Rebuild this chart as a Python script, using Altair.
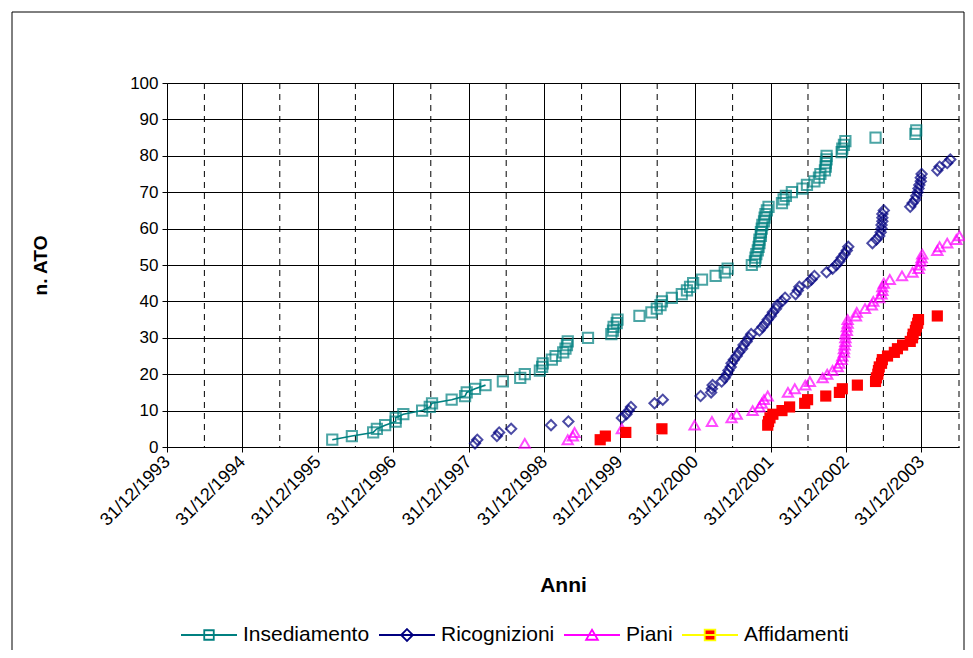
import altair as alt
import pandas as pd

series_names = ["Insediamento", "Ricognizioni", "Piani", "Affidamenti"]
marker_colors = ["#008080", "#000080", "#FF00FF", "#FF0000"]
legend_stroke = ["#008080", "#000080", "#FF00FF", "#FFFF00"]
legend_fill = ["transparent", "transparent", "transparent", "#FF0000"]

ins_years = [1996.19, 1996.45, 1996.73, 1996.78, 1996.89, 1997.03, 1997.03, 1997.13, 1997.38, 1997.48,
             1997.51, 1997.77, 1997.95, 1997.97, 1998.08, 1998.22, 1998.45, 1998.68, 1998.74, 1998.94,
             1998.97, 1998.98, 1999.10, 1999.15, 1999.25, 1999.28, 1999.30, 1999.31, 1999.58, 1999.89,
             1999.91, 1999.92, 1999.96, 1999.97, 2000.26, 2000.42, 2000.49, 2000.54, 2000.56, 2000.69,
             2000.82, 2000.89, 2000.93, 2000.97, 2001.09, 2001.27, 2001.39, 2001.43, 2001.75, 2001.79,
             2001.80, 2001.81, 2001.83, 2001.84, 2001.85, 2001.85, 2001.87, 2001.87, 2001.88, 2001.89,
             2001.91, 2001.92, 2001.93, 2001.95, 2001.97, 2002.15, 2002.17, 2002.20, 2002.28, 2002.42,
             2002.48, 2002.58, 2002.64, 2002.66, 2002.72, 2002.73, 2002.73, 2002.74, 2002.74, 2002.94,
             2002.95, 2002.97, 2002.99, 2003.39, 2003.92, 2003.93]
ins_vals = [2, 3, 4, 5, 6, 7, 8, 9, 10, 11, 12, 13, 14, 15, 16, 17, 18, 19, 20, 21,
            22, 23, 24, 25, 26, 27, 28, 29, 30, 31, 32, 33, 34, 35, 36, 37, 38, 39, 40, 41,
            42, 43, 44, 45, 46, 47, 48, 49, 50, 51, 52, 53, 54, 55, 56, 57, 58, 59, 60, 61,
            62, 63, 64, 65, 66, 67, 68, 69, 70, 71, 72, 73, 74, 75, 76, 77, 78, 79, 80, 81,
            82, 83, 84, 85, 86, 87]

ric_years = [1998.08, 1998.11, 1998.37, 1998.40, 1998.56, 1999.09, 1999.32, 2000.03, 2000.09, 2000.12,
             2000.15, 2000.46, 2000.57, 2001.07, 2001.21, 2001.22, 2001.23, 2001.35, 2001.39, 2001.42,
             2001.44, 2001.47, 2001.48, 2001.51, 2001.55, 2001.58, 2001.62, 2001.64, 2001.68, 2001.71,
             2001.74, 2001.85, 2001.89, 2001.93, 2001.96, 2002.00, 2002.03, 2002.07, 2002.09, 2002.15,
             2002.19, 2002.33, 2002.36, 2002.38, 2002.49, 2002.54, 2002.58, 2002.74, 2002.82, 2002.87,
             2002.91, 2002.94, 2002.98, 2003.01, 2003.03, 2003.35, 2003.40, 2003.44, 2003.46, 2003.47,
             2003.47, 2003.48, 2003.48, 2003.48, 2003.50, 2003.85, 2003.88, 2003.92, 2003.93, 2003.95,
             2003.96, 2003.97, 2003.99, 2003.99, 2004.00, 2004.21, 2004.24, 2004.34, 2004.38]
ric_vals = [1, 2, 3, 4, 5, 6, 7, 8, 9, 10, 11, 12, 13, 14, 15, 16, 17, 18, 19, 20,
            21, 22, 23, 24, 25, 26, 27, 28, 29, 30, 31, 32, 33, 34, 35, 36, 37, 38, 39, 40,
            41, 42, 43, 44, 45, 46, 47, 48, 49, 50, 51, 52, 53, 54, 55, 56, 57, 58, 59, 60,
            61, 62, 63, 64, 65, 66, 67, 68, 69, 70, 71, 72, 73, 74, 75, 76, 77, 78, 79]

pia_years = [1998.74, 1999.31, 1999.38, 1999.40, 2000.03, 2000.99, 2001.22, 2001.48, 2001.55, 2001.76,
             2001.85, 2001.88, 2001.91, 2001.96, 2002.23, 2002.32, 2002.46, 2002.52, 2002.69, 2002.75,
             2002.82, 2002.89, 2002.91, 2002.94, 2002.95, 2002.97, 2002.97, 2002.98, 2002.99, 2002.99,
             2002.99, 2003.01, 2003.01, 2003.02, 2003.02, 2003.13, 2003.14, 2003.25, 2003.34, 2003.36,
             2003.44, 2003.47, 2003.48, 2003.48, 2003.50, 2003.58, 2003.74, 2003.88, 2003.96, 2003.97,
             2003.99, 2004.00, 2004.01, 2004.21, 2004.24, 2004.34, 2004.46, 2004.50]
pia_vals = [1, 2, 3, 4, 5, 6, 7, 8, 9, 10, 11, 12, 13, 14, 15, 16, 17, 18, 19, 20,
            21, 22, 23, 24, 25, 26, 27, 28, 29, 30, 31, 32, 33, 34, 35, 36, 37, 38, 39, 40,
            41, 42, 43, 44, 45, 46, 47, 48, 49, 50, 51, 52, 53, 54, 55, 56, 57, 58]

aff_years = [1999.74, 1999.81, 2000.08, 2000.56, 2001.96, 2001.97, 2001.99, 2002.03, 2002.15, 2002.25,
             2002.45, 2002.49, 2002.73, 2002.91, 2002.95, 2003.15, 2003.39, 2003.40, 2003.42, 2003.43,
             2003.44, 2003.47, 2003.48, 2003.55, 2003.64, 2003.68, 2003.75, 2003.85, 2003.88, 2003.89,
             2003.92, 2003.93, 2003.95, 2003.96, 2004.21]
aff_vals = [2, 3, 4, 5, 6, 7, 8, 9, 10, 11, 12, 13, 14, 15, 16, 17, 18, 19, 20, 21,
            22, 23, 24, 25, 26, 27, 28, 29, 30, 31, 32, 33, 34, 35, 36]

year_end_ticks = [1993, 1994, 1995, 1996, 1997, 1998, 1999, 2000, 2001, 2002, 2003]
mid_year_lines = ["1994-06-30", "1995-06-30", "1996-06-30", "1997-06-30", "1998-06-30", "1999-06-30",
                  "2000-06-30", "2001-06-30", "2002-06-30", "2003-06-30", "2004-06-30"]
y_ticks = [0, 10, 20, 30, 40, 50, 60, 70, 80, 90, 100]


def dec_to_iso(y):
    yi = int(y)
    start = pd.Timestamp(year=yi, month=1, day=1)
    end = pd.Timestamp(year=yi + 1, month=1, day=1)
    return (start + (y - yi) * (end - start)).strftime("%Y-%m-%d")


rows = []
for name, yrs, vals in zip(series_names, [ins_years, ric_years, pia_years, aff_years],
                           [ins_vals, ric_vals, pia_vals, aff_vals]):
    for i, (yy, vv) in enumerate(zip(yrs, vals)):
        rows.append({"series": name, "date": dec_to_iso(yy), "value": vv, "idx": i})
df = pd.DataFrame(rows)

FONT = "Liberation Sans"
W, H = 792, 364

x_scale = alt.Scale(type="utc", domain=[alt.DateTime(year=1993, month=12, date=31, utc=True),
                                        alt.DateTime(year=2004, month=6, date=30, utc=True)])
y_scale = alt.Scale(domain=[0, 100])

x_axis = alt.Axis(
    values=[alt.DateTime(year=y, month=12, date=31, utc=True) for y in year_end_ticks],
    labelExpr="utcFormat(datum.value, '%d/%m/%Y')",
    labelAngle=-45, labelAlign="right", labelBaseline="middle", labelPadding=7,
    labelOverlap=False, labelFlush=False,
    labelFontSize=18, labelColor="black", labelFont=FONT,
    grid=True, gridColor="black", gridOpacity=1, gridWidth=1,
    domainColor="black", tickColor="black", tickSize=5,
    title="Anni", titleFontSize=21, titleFontWeight="bold", titleFont=FONT, titleColor="black",
    titleY=138, titleBaseline="middle",
)
y_axis = alt.Axis(
    values=y_ticks, labelFontSize=17, labelColor="black", labelFont=FONT, labelPadding=4,
    grid=True, gridColor="black", gridOpacity=1, gridWidth=1,
    domainColor="black", tickColor="black", tickSize=5,
    title="n. ATO", titleFontSize=19, titleFontWeight="bold", titleFont=FONT, titleColor="black",
    titleX=-127, titleY=182, titleBaseline="middle",
)

frame = alt.Chart(alt.Data(values=[{"a": 1}])).mark_rect(
    fillOpacity=0, stroke="black", strokeWidth=1
).encode(x=alt.value(-155), x2=alt.value(797), y=alt.value(-71), y2=alt.value(580))

dashed = alt.Chart(pd.DataFrame({"date": mid_year_lines})).mark_rule(
    color="black", strokeDash=[6, 5], strokeWidth=1
).encode(x=alt.X("date:T", scale=x_scale, axis=x_axis))

base_df = df[df["series"] == "Insediamento"]
ins_line = alt.Chart(base_df[base_df["idx"] < 16]).mark_line(color="#008080", strokeWidth=1.6).encode(
    x=alt.X("date:T", scale=x_scale, axis=x_axis),
    y=alt.Y("value:Q", scale=y_scale, axis=y_axis),
)

open_pts = alt.Chart(df[df["series"] != "Affidamenti"]).mark_point(
    filled=False, strokeWidth=2, size=105
).encode(
    x=alt.X("date:T", scale=x_scale, axis=x_axis),
    y=alt.Y("value:Q", scale=y_scale, axis=y_axis),
    shape=alt.Shape("series:N", scale=alt.Scale(domain=series_names[:3],
                                                range=["square", "diamond", "triangle-up"]), legend=None),
    color=alt.Color("series:N", scale=alt.Scale(domain=series_names[:3], range=marker_colors[:3]), legend=None),
)

aff_pts = alt.Chart(df[df["series"] == "Affidamenti"]).mark_square(
    filled=True, size=125, color="#FF0000", opacity=1
).encode(
    x=alt.X("date:T", scale=x_scale, axis=x_axis),
    y=alt.Y("value:Q", scale=y_scale, axis=y_axis),
)

leg_paths = [
    "M-1,0H1M-0.17,-0.17H0.17V0.17H-0.17Z",
    "M-1,0H1M0,-0.21L0.21,0L0,0.21L-0.21,0Z",
    "M-1,0H1M0,-0.19L0.21,0.17H-0.21Z",
    "M-1,0H1M-0.19,-0.19H0.19V0.19H-0.19Z",
]
leg_df = pd.DataFrame({"leg": series_names})
legend_layer = alt.Chart(leg_df).mark_point(opacity=0).encode(
    shape=alt.Shape("leg:N", scale=alt.Scale(domain=series_names, range=leg_paths),
                    legend=alt.Legend(orient="none", legendX=13, legendY=523, direction="horizontal",
                                      title=None, labelFontSize=21, labelFont=FONT, labelColor="black",
                                      symbolSize=3136, symbolStrokeWidth=1.8, symbolOpacity=1,
                                      labelOffset=5, columnPadding=5)),
    stroke=alt.Stroke("leg:N", scale=alt.Scale(domain=series_names, range=legend_stroke)),
    fill=alt.Fill("leg:N", scale=alt.Scale(domain=series_names, range=legend_fill)),
)

chart = alt.layer(frame, dashed, ins_line, open_pts, aff_pts, legend_layer).resolve_scale(
    shape="independent", color="independent", stroke="independent", fill="independent"
).properties(
    width=W, height=H,
    padding={"left": 159, "top": 75, "right": 6, "bottom": 203},
    autosize=alt.AutoSizeParams(type="none"),
    background="white",
).configure_view(stroke=None).configure_axis(labelFont=FONT, titleFont=FONT)

chart.save("out.html", embed_options={"renderer": "svg", "actions": False})
